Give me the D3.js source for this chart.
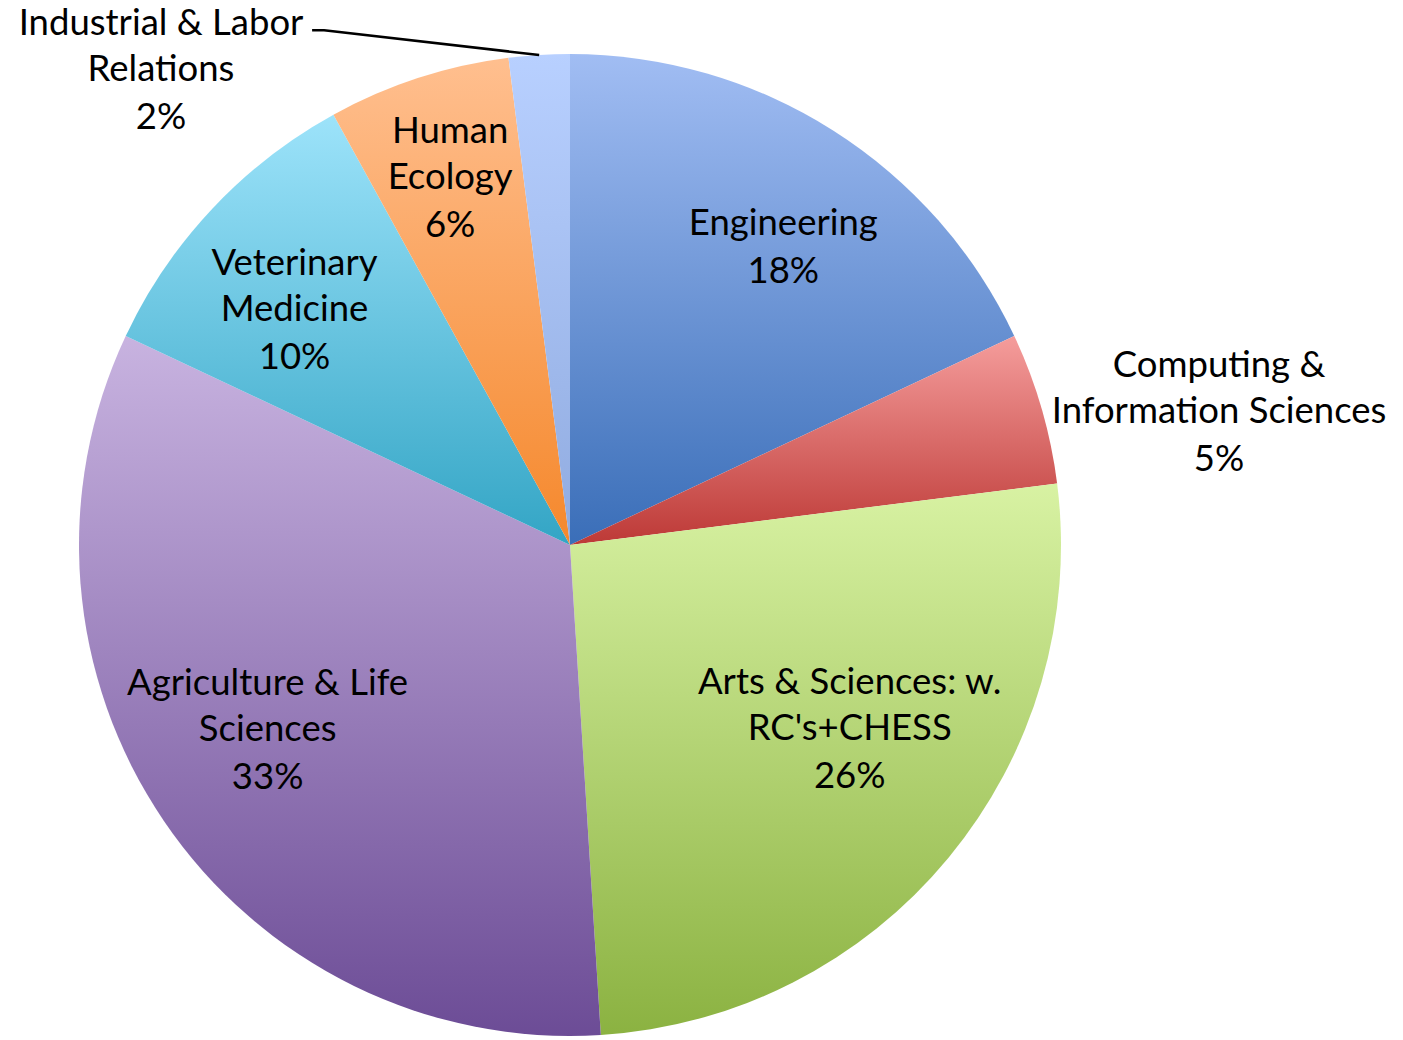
<!DOCTYPE html>
<html>
<head>
<meta charset="utf-8">
<script src="https://cdn.jsdelivr.net/npm/d3@7"></script>
<style>
  body { margin: 0; background: #fff; }
  .slice-label { font-family: Lato, "Open Sans", sans-serif; font-size: 36.5px; fill: #000; }
</style>
</head>
<body>
<div id="chart"></div>
<script>
// slice data, clockwise from 12 o'clock
const colleges = ['Engineering', 'Computing & Information Sciences', "Arts & Sciences: w. RC's+CHESS",
    'Agriculture & Life Sciences', 'Veterinary Medicine', 'Human Ecology', 'Industrial & Labor Relations'];
const shares = [18, 5, 26, 33, 10, 6, 2];
const labelLines = [
    ['Engineering'],
    ['Computing &', 'Information Sciences'],
    ['Arts & Sciences: w.', "RC's+CHESS"],
    ['Agriculture & Life', 'Sciences'],
    ['Veterinary', 'Medicine'],
    ['Human', 'Ecology'],
    ['Industrial & Labor', 'Relations']
];
// gradient stops (top, bottom) for each slice
const topColors = ['#a1bdf3', '#f59d9c', '#d8f2a3', '#c8b3e0', '#9de3fa', '#ffbf8f', '#b8d0ff'];
const bottomColors = ['#3a6eb8', '#bd3936', '#8bb241', '#6c4c96', '#33a5c5', '#f5882c', '#90abe0'];

// layout
let width = 1403, height = 1040,
    cx = 570, cy = 545,
    radius = 491,
    lineHeight = 46,
    // label placement: radius factor and angle nudge (deg) per slice
    labelSpots = [
        {k: 0.75, da: 3},
        {k: 1.35, da: 4.5},
        {k: 0.68, da: -6.5},
        {k: 0.72, da: 3},
        {k: 0.74, da: -2.5},
        {k: 0.79, da: 0},
        {k: 1.28, da: -37}
    ];

const data = colleges.map((c, i) => ({college: c, share: shares[i], lines: labelLines[i]}));

const svg = d3.select('#chart')
    .append('svg')
    .attr('width', width)
    .attr('height', height);

const defs = svg.append('defs');
data.forEach((d, i) => {
    let g = defs.append('linearGradient')
        .attr('id', 'grad' + i)
        .attr('x1', 0).attr('y1', 0)
        .attr('x2', 0).attr('y2', 1);
    g.append('stop').attr('offset', '0%').attr('stop-color', topColors[i]);
    g.append('stop').attr('offset', '100%').attr('stop-color', bottomColors[i]);
});

const pie = d3.pie()
    .value(d => d.share)
    .sort(null);

const arc = d3.arc()
    .innerRadius(0)
    .outerRadius(radius);

const arcs = pie(data);

const g = svg.append('g')
    .attr('transform', `translate(${cx},${cy})`);

// slices
g.selectAll('path.slice')
    .data(arcs).enter()
    .append('path')
    .classed('slice', true)
    .attr('d', arc)
    .attr('fill', (d, i) => `url(#grad${i})`);

// polar helper (angle measured clockwise from top)
const polar = (a, r) => [Math.sin(a) * r, -Math.cos(a) * r];

// labels
const labels = g.selectAll('text.slice-label')
    .data(arcs).enter()
    .append('text')
    .classed('slice-label', true)
    .attr('text-anchor', 'middle')
    .each(function (d, i) {
        let spot = labelSpots[i],
            mid = (d.startAngle + d.endAngle) / 2 + spot.da * Math.PI / 180,
            [x, y] = polar(mid, radius * spot.k),
            lines = d.data.lines.concat([d.data.share + '%']),
            n = lines.length,
            top = y - (n - 1) * lineHeight / 2;
        d3.select(this).selectAll('tspan')
            .data(lines).enter()
            .append('tspan')
            .attr('x', x)
            .attr('y', (l, j) => top + j * lineHeight + (j === n - 1 ? 2 : 0))
            .attr('dy', '0.35em')
            .text(l => l);
    });

// leader line for the small Industrial & Labor Relations slice
const ilr = arcs[6];
const ilrText = labels.filter((d, i) => i === 6).node();
const firstLine = ilrText.querySelector('tspan').getBBox();
const edge = polar((ilr.startAngle + ilr.endAngle) / 2, radius);
const lx = firstLine.x + firstLine.width + 8,
    ly = firstLine.y + firstLine.height * 0.72;

g.append('path')
    .attr('d', d3.line()([[lx, ly], [lx + 12, ly], edge]))
    .attr('fill', 'none')
    .attr('stroke', '#000')
    .attr('stroke-width', 2.5);
</script>
</body>
</html>
